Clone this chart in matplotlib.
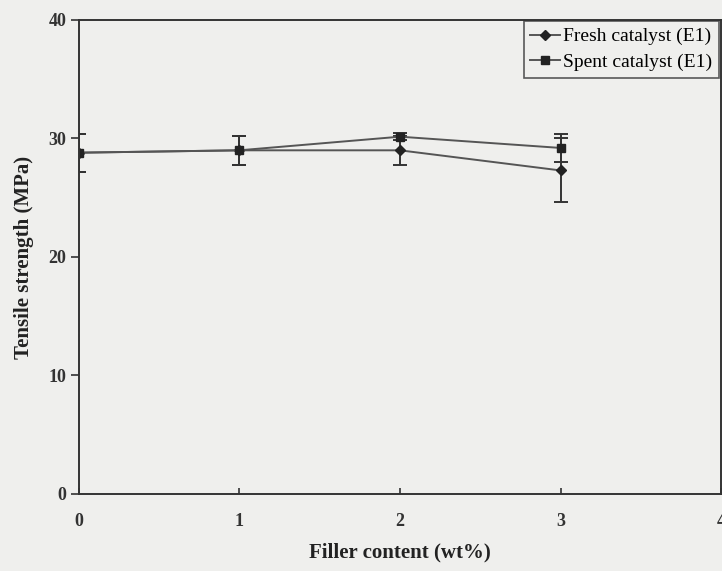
import matplotlib
matplotlib.use("Agg")
import matplotlib.pyplot as plt

# Tensile strength vs filler content
filler = [0, 1, 2, 3]
fresh_ts = [28.8, 29.0, 29.0, 27.3]
fresh_err = [1.6, 1.2, 1.2, 2.7]
spent_ts = [28.8, 29.0, 30.15, 29.2]
spent_err = [1.6, 1.2, 0.3, 1.2]

plt.rcParams['font.family'] = ['Liberation Serif', 'DejaVu Serif']

fig = plt.figure(figsize=(7.22, 5.71), dpi=100, facecolor='#efefed')
ax = fig.add_axes([0.109, 0.135, 0.89, 0.83])
ax.set_facecolor('#efefed')

line_c = '#555555'
mark_c = '#222222'
err_kw = dict(fmt='none', ecolor='#333333', elinewidth=1.4, capsize=5, capthick=1.4)
ax.errorbar(filler, fresh_ts, yerr=fresh_err, **err_kw)
ax.errorbar(filler, spent_ts, yerr=spent_err, **err_kw)
ax.plot(filler, fresh_ts, color=line_c, lw=1.4, marker='D', markersize=5,
        mfc=mark_c, mec=mark_c, label='Fresh catalyst (E1)')
ax.plot(filler, spent_ts, color=line_c, lw=1.4, marker='s', markersize=6,
        mfc=mark_c, mec=mark_c, label='Spent catalyst (E1)')

ax.set_xlim(0, 4)
ax.set_ylim(0, 40)
ax.set_xticks([0, 1, 2, 3, 4])
ax.set_yticks([0, 10, 20, 30, 40])
ax.tick_params(axis='x', direction='in', length=4, width=1.2, pad=14, labelsize=13, colors='#333333')
ax.tick_params(axis='y', direction='out', length=6, width=1.2, pad=3, labelsize=13, colors='#333333')
for lab in ax.get_xticklabels() + ax.get_yticklabels():
    lab.set_fontweight('bold')
for s in ax.spines.values():
    s.set_linewidth(1.4)
    s.set_color('#333333')

ax.set_xlabel('Filler content (wt%)', fontsize=15, fontweight='bold', labelpad=9, color='#222222')
ax.set_ylabel('Tensile strength (MPa)', fontsize=15, fontweight='bold', labelpad=10, color='#222222')

leg = ax.legend(loc='upper right', fontsize=14, frameon=True, fancybox=False,
                handlelength=1.5, handletextpad=0.2, borderpad=0.35, labelspacing=0.4,
                borderaxespad=0.0, bbox_to_anchor=(0.997, 0.998))
leg.get_frame().set_edgecolor('#333333')
leg.get_frame().set_linewidth(1.2)
leg.get_frame().set_facecolor('#efefed')

fig.savefig('out.png', dpi=100, facecolor=fig.get_facecolor())
